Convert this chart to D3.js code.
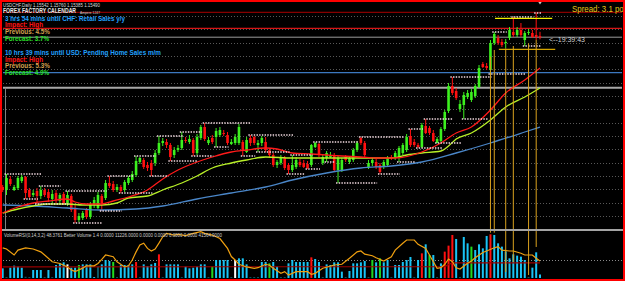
<!DOCTYPE html>
<html lang="en">
<head>
<meta charset="UTF-8">
<title>USDCHF Daily</title>
<style>
  html, body { margin: 0; padding: 0; background: #000; overflow: hidden; }
  svg { display: block; }
  text { font-family: "Liberation Sans", Arial, sans-serif; }
</style>
</head>
<body>
<script src="https://d3js.org/d3.v7.min.js"></script>
<script>
// daily candles, oldest first
const open = [
  1.0800,1.0785,1.0840,1.0785,1.0795,1.0830,1.0850,1.0785,1.0760,1.0780,
  1.0755,1.0785,1.0775,1.0740,1.0770,1.0730,1.0765,1.0720,1.0755,1.0695,
  1.0635,1.0645,1.0685,1.0650,1.0710,1.0695,1.0755,1.0745,1.0820,1.0815,
  1.0785,1.0800,1.0785,1.0820,1.0835,1.0860,1.0925,1.0935,1.0910,1.0920,
  1.0920,1.0970,1.1020,1.1025,1.1010,1.0960,1.0985,1.0995,1.1035,1.1025,
  1.1035,1.0970,1.1045,1.1100,1.1020,1.1045,1.1050,1.1060,1.1070,1.1060,
  1.1015,1.1020,1.1020,1.1025,1.0975,1.1045,1.1050,1.1010,1.1020,1.1025,
  1.0985,1.0960,1.0910,1.0920,1.0945,1.0910,1.0885,1.0900,1.0925,1.0920,
  1.0915,1.0910,1.1000,1.1015,1.0920,1.0945,1.0950,1.0960,1.0885,1.0885,
  1.0950,1.0925,1.0935,1.0985,1.1045,1.1020,1.0900,1.0920,1.0925,1.0910,
  1.0900,1.0910,1.0950,1.0945,1.0950,1.0970,1.0985,1.1055,1.1025,1.1010,
  1.1000,1.1105,1.1095,1.1070,1.1020,1.1030,1.1090,1.1180,1.1305,1.1280,
  1.1190,1.1210,1.1250,1.1235,1.1255,1.1300,1.1415,1.1405,1.1385,1.1520,
  1.1545,1.1525,1.1520,1.1545,1.1575,1.1560,1.1585,1.1535,1.1570,1.1570,
  1.1560,1.15542
];
const high = [
  1.0810,1.0865,1.0855,1.0810,1.0855,1.0860,1.0855,1.0795,1.0785,1.0795,
  1.0805,1.0795,1.0790,1.0785,1.0785,1.0770,1.0775,1.0780,1.0765,1.0710,
  1.0670,1.0680,1.0695,1.0725,1.0750,1.0775,1.0765,1.0835,1.0855,1.0830,
  1.0815,1.0810,1.0835,1.0855,1.0880,1.0955,1.0950,1.0945,1.0925,1.0935,
  1.0985,1.1055,1.1045,1.1040,1.1020,1.1000,1.1010,1.1075,1.1050,1.1060,
  1.1045,1.1065,1.1110,1.1120,1.1050,1.1060,1.1095,1.1100,1.1085,1.1075,
  1.1040,1.1065,1.1115,1.1035,1.1050,1.1060,1.1055,1.1035,1.1055,1.1050,
  1.0995,1.0970,1.0935,1.0960,1.0955,1.0920,1.0960,1.0950,1.0940,1.0935,
  1.0930,1.1015,1.1025,1.1020,1.0965,1.0980,1.0975,1.0970,1.0955,1.0945,
  1.0960,1.0955,1.0995,1.1030,1.1050,1.1030,1.0935,1.0945,1.0940,1.0920,
  1.0935,1.0955,1.0960,1.0980,1.1005,1.1020,1.1065,1.1090,1.1040,1.1020,
  1.1120,1.1140,1.1105,1.1085,1.1050,1.1100,1.1185,1.1320,1.1350,1.1295,
  1.1235,1.1275,1.1285,1.1290,1.1315,1.1410,1.1425,1.1420,1.1535,1.1575,
  1.1560,1.1540,1.1540,1.1600,1.1650,1.1600,1.1620,1.1580,1.1590,1.1585,
  1.1670,1.15760
];
const low = [
  1.0775,1.0760,1.0805,1.0780,1.0785,1.0820,1.0740,1.0745,1.0750,1.0715,
  1.0740,1.0750,1.0725,1.0720,1.0720,1.0720,1.0710,1.0705,1.0675,1.0620,
  1.0625,1.0635,1.0640,1.0640,1.0695,1.0690,1.0680,1.0735,1.0795,1.0775,
  1.0775,1.0770,1.0775,1.0810,1.0825,1.0850,1.0915,1.0890,1.0880,1.0855,
  1.0905,1.0960,1.1005,1.0995,1.0930,1.0945,1.0975,1.0985,1.1020,1.1015,
  1.0955,1.0960,1.1035,1.1030,1.1010,1.1015,1.1000,1.1050,1.1055,1.1010,
  1.1010,1.1010,1.1010,1.0955,1.0970,1.1005,1.1010,1.0975,1.1005,1.0975,
  1.0945,1.0900,1.0895,1.0910,1.0885,1.0865,1.0875,1.0890,1.0900,1.0895,
  1.0890,1.0900,1.0995,1.0950,1.0910,1.0925,1.0945,1.0875,1.0820,1.0875,
  1.0925,1.0915,1.0925,1.0975,1.1010,1.0950,1.0890,1.0905,1.0890,1.0865,
  1.0890,1.0900,1.0935,1.0935,1.0925,1.0960,1.0975,1.1000,1.1000,1.0995,
  1.0995,1.1065,1.1060,1.1025,1.1020,1.1025,1.1080,1.1170,1.1260,1.1235,
  1.1175,1.1140,1.1240,1.1225,1.1245,1.1295,1.1395,1.1385,1.1365,1.1510,
  1.1510,1.1500,1.1495,1.1535,1.1550,1.1550,1.1550,1.1505,1.1560,1.1545,
  1.1535,1.15385
];
const close = [
  1.0785,1.0845,1.0815,1.0800,1.0845,1.0850,1.0770,1.0750,1.0770,1.0755,
  1.0785,1.0760,1.0745,1.0765,1.0735,1.0760,1.0720,1.0760,1.0685,1.0635,
  1.0655,1.0670,1.0650,1.0715,1.0735,1.0760,1.0720,1.0820,1.0805,1.0785,
  1.0800,1.0780,1.0825,1.0845,1.0865,1.0930,1.0945,1.0900,1.0895,1.0885,
  1.0970,1.1020,1.1030,1.1010,1.0950,1.0985,1.0995,1.1035,1.1030,1.1040,
  1.0970,1.1050,1.1100,1.1040,1.1035,1.1025,1.1080,1.1085,1.1065,1.1020,
  1.1025,1.1050,1.1100,1.0985,1.1035,1.1020,1.1020,1.1020,1.1045,1.0985,
  1.0960,1.0910,1.0925,1.0950,1.0895,1.0885,1.0910,1.0935,1.0910,1.0900,
  1.0895,1.1010,1.1020,1.0960,1.0950,1.0970,1.0960,1.0885,1.0945,1.0935,
  1.0935,1.0945,1.0985,1.1020,1.1020,1.0960,1.0920,1.0935,1.0900,1.0875,
  1.0925,1.0945,1.0945,1.0970,1.0995,1.1010,1.1050,1.1010,1.1010,1.1000,
  1.1110,1.1070,1.1070,1.1030,1.1040,1.1090,1.1175,1.1305,1.1270,1.1245,
  1.1215,1.1260,1.1270,1.1275,1.1305,1.1395,1.1400,1.1395,1.1520,1.1565,
  1.1520,1.1510,1.1525,1.1585,1.1560,1.1585,1.1560,1.1570,1.1575,1.1550,
  1.1550,1.15490
];

// moving averages, read at a few bars each
const maFastIdx = [0,4,8,12,17,19,22,26,29,33,38,42,46,51,55,60,64,69,72,76,81,85,89,94,98,103,110,115,119,123,128,132,137,141];
const maFast = [1.0670,1.0700,1.0720,1.0730,1.0740,1.0725,1.0715,1.0715,1.0730,1.0750,1.0785,1.0840,1.0885,1.0925,1.0950,1.0975,1.0985,1.0995,1.0990,1.0970,1.0965,1.0960,1.0955,1.0950,1.0945,1.0945,1.0975,1.1020,1.1070,1.1100,1.1185,1.1270,1.1335,1.1395];
const maMidIdx = [0,4,8,12,17,21,26,30,33,38,42,47,51,55,60,64,69,76,85,94,102,106,110,115,117,119,123,128,132,137,141];
const maMid = [1.0670,1.0690,1.0705,1.0715,1.0715,1.0710,1.0710,1.0720,1.0745,1.0755,1.0785,1.0820,1.0855,1.0895,1.0920,1.0935,1.0950,1.0945,1.0945,1.0945,1.0945,1.0960,1.0970,1.0980,1.1005,1.1040,1.1070,1.1135,1.1200,1.1250,1.1295];
const maSlowIdx = [0,8,17,26,35,42,51,60,69,76,85,94,102,110,119,128,137,141];
const maSlow = [1.0710,1.0705,1.0695,1.0685,1.0690,1.0705,1.0740,1.0770,1.0800,1.0835,1.0870,1.0895,1.0905,1.0925,1.0970,1.1020,1.1075,1.1100];

// fractal levels: start bar, end bar, high or low of the start bar
const lvFrom = [1,10,17,6,9,19,26,31,28,35,39,41,44,47,53,50,56,65,63,67,75,80,82,76,88,94,104,99,107,109,111,114,118,121,128,129,134,137,140,85];
const lvTo   = [10,15,27,9,17,26,31,39,34,40,43,47,51,52,65,55,59,76,66,75,79,83,93,81,98,105,108,104,110,115,118,120,128,127,137,132,139,141,141,87];
const lvSide = "hhhlllllhhlhlhhllhllllhhlhllhlhlhllhhlhl".split('');

// horizontal price lines and the range box
const gridLevels = [1.16550,1.15885,1.15215,1.14550,1.13885,1.13215,1.12550,1.11885,1.11215,1.10550,1.09885,1.09215,1.08550,1.07885,1.07215,1.06550];
const levelPrice = [1.16735,1.15935,1.15490,1.13715,1.12965];
const segPrice = [1.16435,1.14885];
const segFrom = [129.2,130.2];
const segTo = [144.2,145.0];
const vIdx = [128,129,132,134,138,140];
const vTop = [1.14515,1.14850,1.14935,1.15050,1.15185,1.15350];
const vBottom = [145000,145000,19200,51200,9600,99200];

// Better Volume bars
const volume = [
  30900,3000,33000,39500,36300,33000,4000,3000,25600,25600,
  25600,3000,25600,3000,41600,46900,50100,43700,33000,33000,
  41600,43700,43700,43700,3000,36300,43700,57600,54400,51200,
  3000,41600,41600,41600,43700,51200,3000,43700,38400,43700,
  48000,75700,3000,43700,43700,43700,43700,3000,36300,30900,
  33000,36300,43700,43700,3000,36300,57600,57600,57600,57600,
  3000,57600,62900,62900,43700,3000,3000,3000,51200,51200,
  46900,51200,36300,3000,3000,46900,57600,51200,51200,51200,
  51200,66100,60800,51200,3000,43700,41600,50100,50100,20300,
  3000,22400,46900,46900,50100,54400,3000,57600,50100,62900,
  50100,57600,3000,41600,41600,51200,57600,67200,3000,57600,
  78900,107700,73600,73600,3000,46900,84300,103500,137600,124800,
  3000,131200,110900,100300,89600,107700,94900,134400,139700,137600,
  110900,100300,85000,62900,75700,71500,68300,57600,3000,33100,
  82100,11226
];
const volKind = ("cdccccddcc" + "cdcdcccwcc" + "gccccdcccg" + "dccccrdccc" + "crdccccdcc" +
  "ccccdgcccc" + "dwcccdddcc" + "gccddccccc" + "crccdccccc" + "dcccccdgcg" +
  "ccdcccccdc" + "rcgcdcrrrc" + "dccgccccrc" + "ccccccccdc" + "cc").split('');
const volAvgIdx = [0,60,116,118,141];
const volAvg = [35500,36000,36500,48500,48500];

// VolumeRSI line
const rsiIdx = [0,1,3,4,6,8,10,11,13,15,17,18,19,21,22,24,25,26,27,29,30,32,33,34,35,36,37,38,39,40,41,42,43,45,46,48,50,52,53,55,57,59,60,61,62,64,66,67,69,70,71,73,74,75,77,78,80,81,82,84,87,89,91,93,94,95,97,98,100,102,103,105,106,108,109,111,112,114,115,116,117,118,119,120,122,123,124,126,127,129,130,131,133,134,136,137,139,140,141];
const rsiVal = [71,69,58.6,67,71,69,64,58.6,47,44,38,33,30,36,40,40,44,51,58.6,55.7,47,38,40,50,64,76,79,70,65.5,69,79,90,96,93,94,92,96,98.8,96,93,87,70,56,50,42.6,38,35.7,36.7,42.6,41,35.7,27,30,24,30,29.8,29.8,25.3,27,35.7,41.4,42.6,53,64,65.5,60,57.4,54,48.3,55.7,67,78.8,84.5,84.5,77,70,58.6,35.7,36.7,42.6,51.7,47,36.7,34.5,44.3,48.3,54,63,65.5,71,73,67,65.5,65.5,61.6,58.6,58.6,53,48.4];

// text
const headerText = "USDCHF,Daily  1.15542 1.15760 1.15385 1.15490";
const calTitle = "FOREX FACTORY CALENDAR";
const calEvents = [
  ["3 hrs 54 mins until CHF: Retail Sales y/y", "Impact: High", "Previous: 4.5%", "Forecast: 3.7%"],
  ["10 hrs 39 mins until USD: Pending Home Sales m/m", "Impact: High", "Previous: 5.3%", "Forecast: 4.9%"]
];
const spreadText = "Spread: 3.1 points";
const timerText = "<--19:39:43";
const volTitle = "VolumeRSI(0,14,3,2) 48.3761  Better Volume 1.4 0.0000 11226.0000 0.0000 0.0000 0.0000 0.0000 41564.0000";

const W = 625, H = 281;
const N = close.length;

const svg = d3.select('body').append('svg')
  .attr('width', W)
  .attr('height', H);

svg.append('rect').attr('width', W).attr('height', H).attr('fill', '#000');

const x = d3.scaleLinear().domain([0, N - 1]).range([2.7, 540]);
const y = d3.scaleLinear().domain([1.0588, 1.1735]).range([229.4, 0]);
const yVol = d3.scaleLinear().domain([0, 150000]).range([278, 231.1]);
const yRsi = d3.scaleLinear().domain([0, 100]).range([289, 231]);
const crisp = v => Math.round(v) + 0.5;

const defs = svg.append('defs');
defs.append('clipPath').attr('id', 'clipMain')
  .append('rect').attr('x', 2).attr('y', 0).attr('width', 621).attr('height', 229);
defs.append('clipPath').attr('id', 'clipSub')
  .append('rect').attr('x', 2).attr('y', 231).attr('width', 621).attr('height', 48);

const main = svg.append('g').attr('clip-path', 'url(#clipMain)');
const sub = svg.append('g').attr('clip-path', 'url(#clipSub)');

// grid
main.selectAll('line.grid')
  .data(gridLevels)
  .enter()
  .append('line')
  .attr('x1', 3).attr('x2', 622)
  .attr('y1', d => crisp(y(d))).attr('y2', d => crisp(y(d)))
  .attr('stroke', '#585858')
  .attr('stroke-dasharray', '1,2');

// horizontal lines
const levelStyle = [
  { c: '#a80000', w: 1 },
  { c: '#d41414', w: 1.2 },
  { c: '#9c9c9c', w: 1 },
  { c: '#3c78c0', w: 1.2 },
  { c: '#a8a8a8', w: 2 }
];
levelPrice.forEach((p, k) => {
  main.append('line')
    .attr('x1', 3).attr('x2', 622)
    .attr('y1', y(p)).attr('y2', y(p))
    .attr('stroke', levelStyle[k].c)
    .attr('stroke-width', levelStyle[k].w);
});

// left grey separator
main.append('line')
  .attr('x1', 5.5).attr('x2', 5.5)
  .attr('y1', y(levelPrice[4])).attr('y2', 229)
  .attr('stroke', '#808080');

// candles
const bars = d3.range(N).map(i => ({ i, o: open[i], h: high[i], l: low[i], c: close[i] }));
const candleColor = d => d.c >= d.o ? '#3cf01e' : '#ff1010';

main.selectAll('line.wick')
  .data(bars)
  .enter()
  .append('line')
  .attr('x1', d => x(d.i)).attr('x2', d => x(d.i))
  .attr('y1', d => y(d.h)).attr('y2', d => y(d.l))
  .attr('stroke', candleColor)
  .attr('stroke-width', 1);

main.selectAll('rect.body')
  .data(bars)
  .enter()
  .append('rect')
  .attr('x', d => x(d.i) - 1.3)
  .attr('width', 2.6)
  .attr('y', d => y(Math.max(d.o, d.c)))
  .attr('height', d => Math.max(1, Math.abs(y(d.o) - y(d.c))))
  .attr('fill', candleColor);

// moving averages
const maLine = d3.line()
  .x(d => x(d[0]))
  .y(d => y(d[1]))
  .curve(d3.curveMonotoneX);

main.append('path')
  .datum(d3.zip(maSlowIdx, maSlow))
  .attr('d', maLine)
  .attr('fill', 'none')
  .attr('stroke', '#4a86c8')
  .attr('stroke-width', 1.3);

main.append('path')
  .datum(d3.zip(maMidIdx, maMid))
  .attr('d', maLine)
  .attr('fill', 'none')
  .attr('stroke', '#b8f028')
  .attr('stroke-width', 1.3);

main.append('path')
  .datum(d3.zip(maFastIdx, maFast))
  .attr('d', maLine)
  .attr('fill', 'none')
  .attr('stroke', '#ff1a1a')
  .attr('stroke-width', 1.3);

// fractal dotted levels
main.selectAll('line.frac')
  .data(lvFrom.map((f, k) => ({ f, t: lvTo[k], p: lvSide[k] === 'h' ? high[f] : low[f] })))
  .enter()
  .append('line')
  .attr('x1', d => x(d.f) - 2).attr('x2', d => x(d.t) + 1)
  .attr('y1', d => y(d.p)).attr('y2', d => y(d.p))
  .attr('stroke', '#f4dce2')
  .attr('stroke-width', 1.4)
  .attr('stroke-dasharray', '1.4,1.3');

// range lines
const segColor = ['#f0f000', '#d4a400'];
segPrice.forEach((p, k) => {
  main.append('line')
    .attr('x1', x(segFrom[k])).attr('x2', x(segTo[k]))
    .attr('y1', y(p)).attr('y2', y(p))
    .attr('stroke', segColor[k])
    .attr('stroke-width', 1.3);
});

// volume panel
sub.append('line')
  .attr('x1', 3).attr('x2', 622)
  .attr('y1', crisp(yRsi(50))).attr('y2', crisp(yRsi(50)))
  .attr('stroke', '#8a8a8a')
  .attr('stroke-dasharray', '1,2');

const volColor = { c: '#19c3f5', r: '#ff1010', g: '#20d820', w: '#ffffff', d: '#0b5866' };
sub.selectAll('rect.vol')
  .data(volume)
  .enter()
  .append('rect')
  .attr('x', (d, i) => x(i) - 1)
  .attr('width', 2)
  .attr('y', d => yVol(d))
  .attr('height', d => yVol(0) - yVol(d))
  .attr('fill', (d, i) => volColor[volKind[i]]);

sub.append('path')
  .datum(d3.zip(volAvgIdx, volAvg))
  .attr('d', d3.line().x(d => x(d[0])).y(d => yVol(d[1])))
  .attr('fill', 'none')
  .attr('stroke', '#9a0000')
  .attr('stroke-width', 1.2);

sub.append('path')
  .datum(d3.zip(rsiIdx, rsiVal))
  .attr('d', d3.line().x(d => x(d[0])).y(d => yRsi(d[1])))
  .attr('fill', 'none')
  .attr('stroke', '#f0a010')
  .attr('stroke-width', 1.2);

// vertical lines crossing both panels
vIdx.forEach((i, k) => {
  svg.append('line')
    .attr('x1', x(i)).attr('x2', x(i))
    .attr('y1', y(vTop[k])).attr('y2', yVol(vBottom[k]))
    .attr('stroke', '#d9a11e')
    .attr('stroke-width', 1);
});

// panel separator
svg.append('rect')
  .attr('x', 2).attr('y', 229).attr('width', 621).attr('height', 2)
  .attr('fill', '#a4a4a4');

// texts
svg.append('text')
  .attr('x', 3).attr('y', 7)
  .attr('font-size', 5.5)
  .attr('fill', '#d8d8d8')
  .attr('textLength', 97).attr('lengthAdjust', 'spacingAndGlyphs')
  .text(headerText);

svg.append('text')
  .attr('x', 3).attr('y', 13.4)
  .attr('font-size', 6.5).attr('font-weight', 'bold')
  .attr('fill', '#e6e6e6')
  .attr('textLength', 73).attr('lengthAdjust', 'spacingAndGlyphs')
  .text(calTitle);

svg.append('text')
  .attr('x', 80).attr('y', 13.6)
  .attr('font-size', 4.2)
  .attr('fill', '#d0d0d0')
  .attr('textLength', 20).attr('lengthAdjust', 'spacingAndGlyphs')
  .text('Ampere 1247');

const calColors = ['#22a2ff', '#ff1414', '#d4a050', '#28e028'];
const calWidths = [[120, 38, 45, 44], [156, 38, 45, 44]];
const calTop = [20.8, 55];
calEvents.forEach((ev, e) => {
  ev.forEach((s, k) => {
    svg.append('text')
      .attr('x', 5).attr('y', calTop[e] + k * 6.65)
      .attr('font-size', 6.6).attr('font-weight', 'bold')
      .attr('fill', calColors[k])
      .attr('textLength', calWidths[e][k]).attr('lengthAdjust', 'spacingAndGlyphs')
      .text(s);
  });
});

svg.append('text')
  .attr('x', 572).attr('y', 11.8)
  .attr('font-size', 9)
  .attr('fill', '#e6c619')
  .attr('textLength', 64).attr('lengthAdjust', 'spacingAndGlyphs')
  .text(spreadText);

svg.append('text')
  .attr('x', x(N - 1) + 9).attr('y', y(close[N - 1]) + 5)
  .attr('font-size', 7)
  .attr('fill', '#d0d0d0')
  .attr('textLength', 36).attr('lengthAdjust', 'spacingAndGlyphs')
  .text(timerText);

svg.append('text')
  .attr('x', 4).attr('y', 236.8)
  .attr('font-size', 5)
  .attr('fill', '#d0d0d0')
  .attr('textLength', 218).attr('lengthAdjust', 'spacingAndGlyphs')
  .text(volTitle);

// current bar marker
const mx = x(N - 1);
svg.append('path')
  .attr('d', `M${mx - 2},1.5 L${mx + 2},1.5 L${mx},4.5 Z`)
  .attr('fill', '#c8c8c8');

// window frame
svg.append('rect')
  .attr('x', 1).attr('y', 1).attr('width', 623).attr('height', 279)
  .attr('fill', 'none')
  .attr('stroke', '#ff0000')
  .attr('stroke-width', 2);
</script>
</body>
</html>
